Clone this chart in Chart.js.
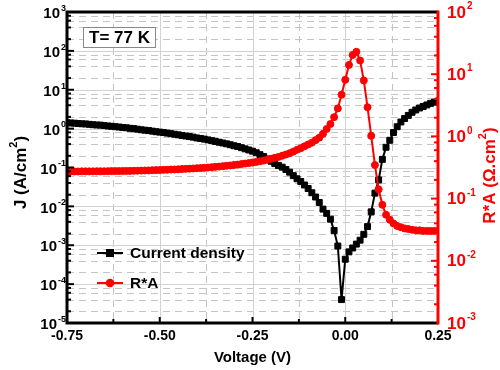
<!DOCTYPE html>
<html>
<head>
<meta charset="utf-8">
<script src="https://cdn.jsdelivr.net/npm/chart.js@4.4.1/dist/chart.umd.min.js"></script>
<style>
  html, body { margin: 0; padding: 0; background: #fff; }
  #wrap { width: 500px; height: 370px; }
</style>
</head>
<body>
<div id="wrap"><canvas id="jvChart" width="500" height="370"></canvas></div>
<script>
// voltage sweep (V)
const voltage = [
  -0.75, -0.74, -0.73, -0.72, -0.71, -0.70, -0.69, -0.68, -0.67, -0.66,
  -0.65, -0.64, -0.63, -0.62, -0.61, -0.60, -0.59, -0.58, -0.57, -0.56,
  -0.55, -0.54, -0.53, -0.52, -0.51, -0.50, -0.49, -0.48, -0.47, -0.46,
  -0.45, -0.44, -0.43, -0.42, -0.41, -0.40, -0.39, -0.38, -0.37, -0.36,
  -0.35, -0.34, -0.33, -0.32, -0.31, -0.30, -0.29, -0.28, -0.27, -0.26,
  -0.25, -0.24, -0.23, -0.22, -0.21, -0.20, -0.19, -0.18, -0.17, -0.16,
  -0.15, -0.14, -0.13, -0.12, -0.11, -0.10, -0.09, -0.08, -0.07, -0.06,
  -0.05, -0.04, -0.03, -0.02, -0.01, 0.00, 0.01, 0.02, 0.03, 0.04,
  0.05, 0.06, 0.07, 0.08, 0.09, 0.10, 0.11, 0.12, 0.13, 0.14,
  0.15, 0.16, 0.17, 0.18, 0.19, 0.20, 0.21, 0.22, 0.23, 0.24,
  0.25,
];

// J (A/cm2), left axis
const currentDensity = [
  1.41, 1.40, 1.38, 1.35, 1.33, 1.32, 1.29, 1.26, 1.24, 1.23,
  1.20, 1.17, 1.15, 1.12, 1.10, 1.07, 1.05, 1.02, 1.00, 0.966,
  0.933, 0.912, 0.891, 0.861, 0.832, 0.813, 0.794, 0.767, 0.741, 0.716,
  0.692, 0.668, 0.646, 0.624, 0.603, 0.575, 0.556, 0.537, 0.513, 0.490,
  0.468, 0.447, 0.427, 0.407, 0.385, 0.363, 0.347, 0.324, 0.302, 0.282,
  0.263, 0.240, 0.214, 0.191, 0.166, 0.145, 0.126, 0.112, 0.102, 0.0891,
  0.0759, 0.0617, 0.0513, 0.0437, 0.0355, 0.0288, 0.0224, 0.0174, 0.0126, 0.00851,
  0.00661, 0.00468, 0.00240, 0.000955, 0.000040, 0.000437, 0.000676, 0.000851, 0.00107, 0.00135,
  0.00191, 0.00302, 0.00724, 0.0219, 0.0479, 0.162, 0.331, 0.501, 0.794, 1.12,
  1.48, 1.82, 2.19, 2.63, 3.02, 3.39, 3.72, 4.07, 4.47, 4.79,
  5.13,
];

// R*A (Ohm.cm2), right axis
const resistanceArea = [
  0.272, 0.272, 0.273, 0.273, 0.274, 0.274, 0.274, 0.274, 0.275, 0.275,
  0.275, 0.276, 0.277, 0.277, 0.277, 0.278, 0.279, 0.279, 0.280, 0.281,
  0.282, 0.283, 0.284, 0.286, 0.287, 0.288, 0.290, 0.291, 0.293, 0.294,
  0.296, 0.299, 0.301, 0.303, 0.305, 0.308, 0.310, 0.313, 0.316, 0.320,
  0.324, 0.327, 0.332, 0.337, 0.341, 0.347, 0.352, 0.359, 0.366, 0.372,
  0.380, 0.389, 0.398, 0.408, 0.422, 0.437, 0.452, 0.468, 0.488, 0.511,
  0.537, 0.569, 0.610, 0.646, 0.692, 0.741, 0.794, 0.871, 0.955, 1.10,
  1.32, 1.58, 2.04, 2.82, 4.68, 8.13, 14.1, 20.4, 22.9, 16.6,
  7.94, 2.95, 1.02, 0.347, 0.141, 0.0794, 0.0550, 0.0457, 0.0398, 0.0363,
  0.0347, 0.0331, 0.0324, 0.0316, 0.0309, 0.0309, 0.0302, 0.0302, 0.0302, 0.0302,
  0.0302,
];

const xTicks = [-0.75, -0.5, -0.25, 0, 0.25];
const xMinorTicks = [-0.625, -0.375, -0.125, 0.125];
const leftExponents = [-5, -4, -3, -2, -1, 0, 1, 2, 3];
const rightExponents = [-3, -2, -1, 0, 1, 2];
const minorSteps = [2, 4, 6, 8];

const FONT = "'Liberation Sans', Arial, sans-serif";
const RED = '#ff0000';

function drawPow(ctx, exp, x, y, align, color, size) {
  const base = '10';
  const sup = String(exp);
  ctx.font = 'bold ' + size + 'px ' + FONT;
  const wb = ctx.measureText(base).width;
  const supSize = Math.round(size * 0.6);
  ctx.font = 'bold ' + supSize + 'px ' + FONT;
  const ws = ctx.measureText(sup).width;
  const start = align === 'right' ? x - wb - ws - 1 : x;
  ctx.fillStyle = color;
  ctx.textAlign = 'left';
  ctx.textBaseline = 'middle';
  ctx.font = 'bold ' + size + 'px ' + FONT;
  ctx.fillText(base, start, y);
  ctx.font = 'bold ' + supSize + 'px ' + FONT;
  ctx.fillText(sup, start + wb + 1, y - size * 0.38);
}

// text pieces [text, isSuperscript], centred at (cx, cy)
function drawRich(ctx, parts, cx, cy, size, color, rotate) {
  ctx.save();
  ctx.translate(cx, cy);
  if (rotate) ctx.rotate(-Math.PI / 2);
  const supSize = Math.round(size * 0.62);
  let total = 0;
  parts.forEach(p => {
    ctx.font = 'bold ' + (p[1] ? supSize : size) + 'px ' + FONT;
    total += ctx.measureText(p[0]).width;
  });
  let x = -total / 2;
  ctx.fillStyle = color;
  ctx.textAlign = 'left';
  ctx.textBaseline = 'middle';
  parts.forEach(p => {
    ctx.font = 'bold ' + (p[1] ? supSize : size) + 'px ' + FONT;
    ctx.fillText(p[0], x, p[1] ? -size * 0.42 : 0);
    x += ctx.measureText(p[0]).width;
  });
  ctx.restore();
}

const gridPlugin = {
  id: 'gridPlugin',
  beforeDatasetsDraw(chart) {
    const { ctx, chartArea: a, scales } = chart;
    const x = scales.x, y = scales.y;
    ctx.save();
    ctx.lineWidth = 1;
    // dashed minor grid
    ctx.strokeStyle = '#c4c4c4';
    ctx.setLineDash([7, 5]);
    xMinorTicks.forEach(v => {
      const px = Math.round(x.getPixelForValue(v)) + 0.5;
      ctx.beginPath(); ctx.moveTo(px, a.top); ctx.lineTo(px, a.bottom); ctx.stroke();
    });
    leftExponents.forEach(e => {
      minorSteps.forEach(k => {
        const val = k * Math.pow(10, e);
        if (val >= y.max) return;
        const py = Math.round(y.getPixelForValue(val)) + 0.5;
        ctx.beginPath(); ctx.moveTo(a.left, py); ctx.lineTo(a.right, py); ctx.stroke();
      });
    });
    // solid major grid
    ctx.setLineDash([]);
    ctx.strokeStyle = '#d2d2d2';
    xTicks.slice(1, -1).forEach(v => {
      const px = Math.round(x.getPixelForValue(v)) + 0.5;
      ctx.beginPath(); ctx.moveTo(px, a.top); ctx.lineTo(px, a.bottom); ctx.stroke();
    });
    leftExponents.slice(1, -1).forEach(e => {
      const py = Math.round(y.getPixelForValue(Math.pow(10, e))) + 0.5;
      ctx.beginPath(); ctx.moveTo(a.left, py); ctx.lineTo(a.right, py); ctx.stroke();
    });
    ctx.restore();
  },
  afterDatasetsDraw(chart) {
    const { ctx, chartArea: a, scales } = chart;
    const x = scales.x, y = scales.y, y1 = scales.y1;
    ctx.save();
    ctx.lineCap = 'butt';

    // inward ticks
    ctx.strokeStyle = '#000';
    ctx.lineWidth = 2;
    xTicks.forEach(v => {
      const px = x.getPixelForValue(v);
      ctx.beginPath(); ctx.moveTo(px, a.bottom); ctx.lineTo(px, a.bottom - 6); ctx.stroke();
    });
    xMinorTicks.forEach(v => {
      const px = x.getPixelForValue(v);
      ctx.beginPath(); ctx.moveTo(px, a.bottom); ctx.lineTo(px, a.bottom - 4); ctx.stroke();
    });
    leftExponents.forEach(e => {
      const py = y.getPixelForValue(Math.pow(10, e));
      ctx.beginPath(); ctx.moveTo(a.left, py); ctx.lineTo(a.left + 7, py); ctx.stroke();
      minorSteps.forEach(k => {
        const val = k * Math.pow(10, e);
        if (val >= y.max) return;
        const p = y.getPixelForValue(val);
        ctx.beginPath(); ctx.moveTo(a.left, p); ctx.lineTo(a.left + 4, p); ctx.stroke();
      });
    });
    ctx.strokeStyle = RED;
    rightExponents.forEach(e => {
      const py = y1.getPixelForValue(Math.pow(10, e));
      ctx.beginPath(); ctx.moveTo(a.right, py); ctx.lineTo(a.right - 7, py); ctx.stroke();
      minorSteps.forEach(k => {
        const val = k * Math.pow(10, e);
        if (val >= y1.max) return;
        const p = y1.getPixelForValue(val);
        ctx.beginPath(); ctx.moveTo(a.right, p); ctx.lineTo(a.right - 4, p); ctx.stroke();
      });
    });

    // frame
    ctx.lineWidth = 3;
    ctx.strokeStyle = '#000';
    ctx.beginPath();
    ctx.moveTo(a.right, a.top); ctx.lineTo(a.left, a.top);
    ctx.lineTo(a.left, a.bottom); ctx.lineTo(a.right, a.bottom);
    ctx.stroke();
    ctx.strokeStyle = RED;
    ctx.beginPath(); ctx.moveTo(a.right, a.top - 1.5); ctx.lineTo(a.right, a.bottom + 1.5); ctx.stroke();

    // y tick labels
    leftExponents.forEach(e => {
      drawPow(ctx, e, a.left - 1, y.getPixelForValue(Math.pow(10, e)) + 2, 'right', '#000', 15);
    });
    rightExponents.forEach(e => {
      drawPow(ctx, e, a.right + 9, y1.getPixelForValue(Math.pow(10, e)) + 1, 'left', RED, 17);
    });

    // axis titles
    drawRich(ctx, [['J (A/cm', false], ['2', true], [')', false]], 21, (a.top + a.bottom) / 2 + 5, 17, '#000', true);
    drawRich(ctx, [['R*A (\u03A9.cm', false], ['2', true], [')', false]], 490, (a.top + a.bottom) / 2 + 8, 17, RED, true);

    // temperature box
    ctx.fillStyle = '#fff';
    ctx.fillRect(83, 27, 72, 21);
    ctx.strokeStyle = '#888';
    ctx.lineWidth = 1;
    ctx.strokeRect(83.5, 27.5, 72, 20);
    ctx.fillStyle = '#000';
    ctx.font = 'bold 17px ' + FONT;
    ctx.textAlign = 'center';
    ctx.textBaseline = 'middle';
    ctx.fillText('T= 77 K', 119.5, 38.5);

    // legend
    ctx.lineWidth = 2;
    ctx.strokeStyle = '#000';
    ctx.beginPath(); ctx.moveTo(97, 253); ctx.lineTo(123, 253); ctx.stroke();
    ctx.fillStyle = '#000';
    ctx.fillRect(106, 249, 8, 8);
    ctx.strokeStyle = RED;
    ctx.beginPath(); ctx.moveTo(97, 283); ctx.lineTo(123, 283); ctx.stroke();
    ctx.fillStyle = RED;
    ctx.beginPath(); ctx.arc(110, 283, 4.3, 0, Math.PI * 2); ctx.fill();
    ctx.fillStyle = '#000';
    ctx.font = 'bold 15.5px ' + FONT;
    ctx.textAlign = 'left';
    ctx.fillText('Current density', 130, 254);
    ctx.fillText('R*A', 130, 284);

    ctx.restore();
  },
};

const ctx = document.getElementById('jvChart').getContext('2d');

new Chart(ctx, {
  type: 'line',
  data: {
    datasets: [
      {
        label: 'R*A',
        data: voltage.map((v, i) => ({ x: v, y: resistanceArea[i] })),
        yAxisID: 'y1',
        borderColor: RED,
        backgroundColor: RED,
        borderWidth: 2,
        pointStyle: 'circle',
        pointRadius: 3.5,
        pointBorderWidth: 1,
        tension: 0,
      },
      {
        label: 'Current density',
        data: voltage.map((v, i) => ({ x: v, y: currentDensity[i] })),
        yAxisID: 'y',
        borderColor: '#000',
        backgroundColor: '#000',
        borderWidth: 2,
        pointStyle: 'rect',
        pointRadius: 4.2,
        pointBorderWidth: 1,
        tension: 0,
      },
    ],
  },
  options: {
    responsive: false,
    animation: false,
    devicePixelRatio: 1,
    layout: { padding: { top: 12, left: 0, right: 0, bottom: 0 } },
    plugins: {
      legend: { display: false },
      tooltip: { enabled: false },
    },
    scales: {
      x: {
        type: 'linear',
        min: -0.75,
        max: 0.25,
        afterBuildTicks: s => { s.ticks = xTicks.map(v => ({ value: v })); },
        afterFit: s => { s.height = 47; },
        grid: { display: false, drawTicks: false },
        border: { display: false },
        ticks: {
          color: '#000',
          padding: 5,
          maxRotation: 0,
          font: { family: FONT, size: 14, weight: 'bold' },
          callback: v => v.toFixed(2),
        },
        title: {
          display: true,
          text: 'Voltage (V)',
          color: '#000',
          font: { family: FONT, size: 15, weight: 'bold' },
          padding: { top: 0, bottom: 3 },
        },
      },
      y: {
        type: 'logarithmic',
        position: 'left',
        min: 1e-5,
        max: 1e3,
        afterFit: s => { s.width = 67; },
        grid: { display: false },
        border: { display: false },
        ticks: { display: false },
      },
      y1: {
        type: 'logarithmic',
        position: 'right',
        min: 1e-3,
        max: 1e2,
        afterFit: s => { s.width = 62; },
        grid: { display: false },
        border: { display: false },
        ticks: { display: false },
      },
    },
  },
  plugins: [gridPlugin],
});
</script>
</body>
</html>
